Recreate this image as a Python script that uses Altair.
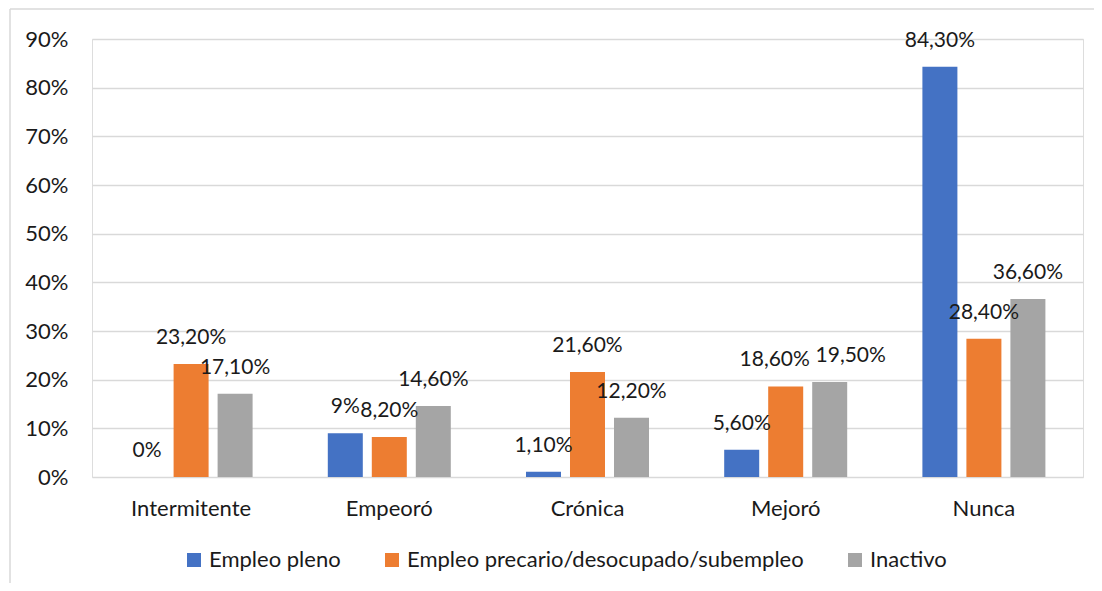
import altair as alt
import pandas as pd

categories = ["Intermitente", "Empeoró", "Crónica", "Mejoró", "Nunca"]
series = ["Empleo pleno", "Empleo precario/desocupado/subempleo", "Inactivo"]
empleo_pleno = [0.0, 9.0, 1.1, 5.6, 84.3]
empleo_precario = [23.2, 8.2, 21.6, 18.6, 28.4]
inactivo = [17.1, 14.6, 12.2, 19.5, 36.6]
colors = ["#4472C4", "#ED7D31", "#A5A5A5"]
y_ticks = [0, 0.1, 0.2, 0.3, 0.4, 0.5, 0.6, 0.7, 0.8, 0.9]

# labels nudged sideways in the original (to avoid overlap)
label_shift = {
    ("Mejoró", "Empleo precario/desocupado/subempleo"): -11,
    ("Mejoró", "Inactivo"): 21,
}


def fmt(v):
    if float(v).is_integer():
        return f"{int(v)}%"
    return f"{v:.2f}".replace(".", ",") + "%"


rows = []
for s, vals in zip(series, [empleo_pleno, empleo_precario, inactivo]):
    for c, v in zip(categories, vals):
        rows.append({"categoria": c, "serie": s, "valor": v / 100,
                     "etiqueta": fmt(v), "shift": label_shift.get((c, s), 0)})
df = pd.DataFrame(rows)

FONT = "Lato"
TXT = "#1a1a1a"
FS = 22
LFS = 21

x_enc = alt.X("categoria:N", sort=categories,
              scale=alt.Scale(paddingInner=0.3794, paddingOuter=0.1897),
              axis=alt.Axis(title=None, labelAngle=0, labelFontSize=FS, labelPadding=21,
                            ticks=False, domain=False, grid=False, labelColor=TXT, labelFont=FONT))
xo_enc = alt.XOffset("serie:N", sort=series,
                     scale=alt.Scale(paddingInner=0.2045, paddingOuter=0))
y_enc = alt.Y("valor:Q", scale=alt.Scale(domain=[0, 0.9], nice=False),
              axis=alt.Axis(title=None, format=".0%", values=y_ticks, labelFontSize=FS,
                            labelPadding=24, ticks=False, domain=False, grid=True,
                            gridColor="#D9D9D9", gridWidth=1.3, labelColor=TXT, labelFont=FONT))

base = alt.Chart(df)

bars = base.mark_bar().encode(
    x=x_enc, xOffset=xo_enc, y=y_enc,
    color=alt.Color("serie:N", sort=series,
                    scale=alt.Scale(domain=series, range=colors),
                    legend=alt.Legend(title=None, orient="none", direction="horizontal",
                                      legendX=91, legendY=510, symbolType="square",
                                      symbolSize=196, symbolStrokeWidth=0, labelFontSize=FS,
                                      labelFont=FONT, labelColor=TXT, labelOffset=4,
                                      labelLimit=0, columnPadding=40, symbolOpacity=1)),
)


def labels(filt, dx):
    return base.transform_filter(filt).mark_text(
        fontSize=LFS, font=FONT, color=TXT, baseline="middle", dy=-26, dx=dx
    ).encode(x=alt.X("categoria:N", sort=categories),
             xOffset=alt.XOffset("serie:N", sort=series),
             y="valor:Q", text="etiqueta:N")


text_main = labels("datum.shift == 0", 0)
text_left = labels("datum.shift < 0", -11)
text_right = labels("datum.shift > 0", 21)

frame_top = alt.Chart(pd.DataFrame({"a": [0]})).mark_rule(color="#D9D9D9", strokeWidth=1.5).encode(
    x=alt.value(-82), x2=alt.value(1002), y=alt.value(-30))
frame_left = alt.Chart(pd.DataFrame({"a": [0]})).mark_rule(color="#D9D9D9", strokeWidth=1.5).encode(
    x=alt.value(-82), y=alt.value(-30), y2=alt.value(544))

chart = alt.layer(bars, text_main, text_left, text_right, frame_top, frame_left).properties(
    width=991, height=438,
    autosize=alt.AutoSizeParams(type="none"),
    padding={"left": 84, "top": 31, "right": 11, "bottom": 106},
).configure_view(stroke=None).configure(font=FONT)

chart.save("out.html", embed_options={"renderer": "svg", "actions": False})
